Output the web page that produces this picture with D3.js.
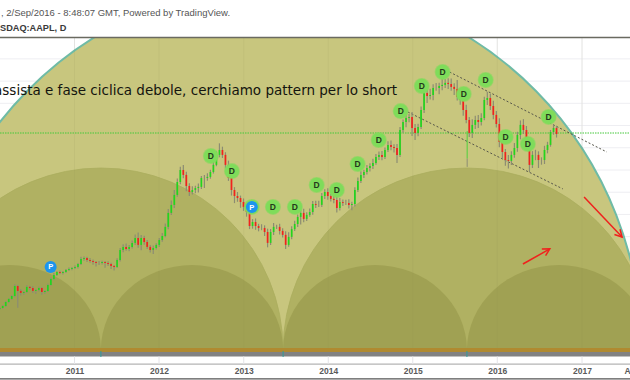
<!DOCTYPE html>
<html><head><meta charset="utf-8">
<script src="https://cdn.jsdelivr.net/npm/d3@7/dist/d3.min.js"></script>
<style>html,body{margin:0;padding:0;background:#fff;overflow:hidden}svg{display:block}</style>
</head><body><svg id="c" width="630" height="380"></svg>
<script>
const headerText = ", 2/Sep/2016 - 8:48:07 GMT, Powered by TradingView.";
const symbolText = "SDAQ:AAPL, D";
const noteText = "assista e fase ciclica debole, cerchiamo pattern per lo short";
const tickDates = ["2011-01-01","2012-01-01","2013-01-01","2014-01-01","2015-01-01","2016-01-01","2017-01-01","2017-07-15"];
const tickLabels = ["2011","2012","2013","2014","2015","2016","2017","A"];
const gridPrices = [137.5,127.5,117.5,107.5,97.5,87.5,77.5,67.5,57.5,47.5,37.5,27.5,17.5];
const levelPrice = 104.15;
const firstCandle = "2010-02-12", candleDays = 13;
const closes = [
25.4,26.3,28.1,29.5,30.8,35.3,33.1,32.2,32.6,34.9,
34.4,33.1,33.5,34.4,32.6,33.1,35.8,38.5,40.3,41.6,
41.2,41.6,42.5,43,43.4,43.9,45.2,47.5,47.9,47,
46.6,46.1,45.7,45.7,46.1,45.7,45.2,44.3,43.9,47,
51.5,52.9,52,52.9,54.7,56.9,53.8,56.9,55.1,52.9,
51.5,52.4,53.8,56,57.8,61.9,68.2,71.8,76.3,82.1,
87.5,85.3,80.3,77.6,78.5,79.4,79.9,83.9,83.9,84.4,
86.6,89.8,94.3,96.5,94.3,89.8,83.9,78.5,75.8,74.9,
73.1,70.9,68.6,62.3,64.1,62.3,61.4,61.4,59.6,54.7,
59.6,61.9,61.9,60.1,58.3,53.8,57.4,60.9,63.2,66.4,
68.2,65.5,67.3,68.6,72.2,71.8,71.8,75.8,77.6,75.8,
74.5,74,70.4,73.1,72.7,72.7,71.8,72.2,78.5,82.6,
85.3,86.6,88.4,89.3,90.7,93.4,94.3,93.4,96.5,98.8,
97.9,97.4,94.3,105.5,109.1,110.9,111.4,106.4,104.2,106.9,
114.5,122.2,120.8,121.3,124.4,124.4,125.3,125.8,126.7,126.2,
124.9,124,120.4,119,114.5,110,104.2,107.8,110,109.1,
110.9,119,119.9,116.3,112.3,108.2,100.1,95.6,92,91.6,
94.3,97.4,103.3,107.8,105.5,98.8,89.8,94.3,94.3,92,
92,96.5,98.8,104.6,106.4,103.7];
const wickUp = [
.4,.5,.4,.3,.5,.8,.6,.9,.5,.7,
.5,.9,.4,.6,.5,.4,.5,.6,.8,.5,
.7,.4,.5,.6,.4,.6,.5,1,.7,.6,
.9,.6,.5,.8,.6,.5,.7,.6,.5,.8,
.9,1.2,1.5,.8,1.1,1.6,2.5,1.4,1,.9,
.8,1.1,.7,.9,1.3,1.5,1.8,2,2.2,1.6,
1.5,2.2,1.4,1.2,1.7,1,1.5,.9,1.4,1.6,
1,1.3,1.6,3,1.5,1.2,1.9,2.2,1.3,1.8,
1.1,1.6,1.2,1.8,1.3,1.6,1,1.7,1.2,1.5,
1.3,1.8,1,1.4,1.2,1.6,2.1,1.3,1.5,1.1,
1.4,1.9,1.2,1.6,1.3,1.5,1.9,1.4,1.2,1.7,
1,1.5,1.3,1.8,1.1,1.4,1.6,1,1.2,1.5,
1.6,1,1.4,1.2,1.9,1.3,1.5,1.7,1.1,1.6,
2,1.2,1.8,1.4,1.1,1.6,1.3,2.2,1.8,1.4,
1.6,1.2,2.4,2.8,1.7,2.2,1.5,2.6,1.8,2.1,
2.5,1.6,4,2,1.7,2.4,1.3,2.5,1.9,2.3,
2.1,1.5,2.8,1.9,2.4,1.7,2.6,1.8,1.4,2.2,
1.6,2.3,1.4,2,2.6,1.8,1.3,1.7,2.3,1.6,
1.2,1.9,1.4,.9,1.5,1];
const wickDown = [
.4,.3,.5,.4,.4,.6,7.6,1.2,.8,.5,
.9,1,1.4,.7,1.2,.8,.5,.4,.6,.5,
.6,.7,.5,.4,.6,.5,.7,.4,.8,.9,
.8,1.2,1.6,.9,.7,2.2,.9,1.4,1.6,.5,
.7,1,.8,1.1,.7,.9,1.3,2.4,1.2,1,
1.1,1.8,.7,.9,.8,.6,1.1,.9,1.4,.8,
1,1.5,2.4,1.8,1.1,1.5,2,.9,4.5,1.2,
.8,.7,.6,1.1,1.4,1.6,1.3,2.5,3.2,1.7,
2.6,1.8,2.1,1.4,1.2,1.7,1.5,1,1.8,2,
.9,1.3,1,1.6,1.2,1.8,.8,1.1,.9,1.4,
3.4,1.5,1,.8,1.2,1.4,.9,1,1.3,1.7,
1.2,1.5,2,1.1,1.4,1,1.6,2.4,1.1,.9,
1,1.4,1.1,1.6,1.3,.8,1.4,1.5,1,.9,
1.5,2,3.6,1,1.2,2.4,1.9,3.6,3.2,1.5,
.9,1.4,3.2,1.6,2.4,1.2,2.8,1.9,1.4,2.3,
1.7,2.8,1.6,2.1,2.6,1.5,1.8,2.3,1.9,2.7,
1.6,1,2.2,1.8,2,1.6,2.4,3,2.6,3.4,
1.8,1.3,1.7,2,1.8,2.2,3.2,1.4,2.4,3.6,
2.1,1.8,1.5,.8,1.2,1.6];
const crashDate = ["2015-08-24"], crashOpen = [92.7], crashClose = [105], crashLow = [88.9];
const dividendDates = ["2012-08-12","2012-11-11","2013-02-05","2013-05-07","2013-08-10","2013-11-12","2014-02-07","2014-05-08","2014-08-07","2014-11-10","2015-02-09","2015-05-10","2015-08-09","2015-11-12","2016-02-06","2016-05-12","2016-08-10"];
const dividendPrices = [93.8,87,70.9,70.9,70.9,80.75,78.5,90.2,101,114,125.3,131.6,121.7,128,102.4,99.2,111.4];
const splitDates = ["2010-09-20","2013-02-05"];
const splitPrices = [43.9,70.85];
const cycleDates = ["2011-04-25","2013-06-20","2015-08-23"];
const channelUpperDates = ["2015-06-09","2017-04-18"], channelUpperPrices = [131.6,95.6];
const channelLowerDates = ["2014-12-11","2016-10-10"], channelLowerPrices = [113.6,79];
const arrowUpDates = ["2016-04-21","2016-08-15"], arrowUpPrices = [45.2,52];
const arrowDownDates = ["2017-01-10","2017-06-23"], arrowDownPrices = [75.35,57.35];

const W=630,H=380,plotTop=38,base=350,bandTop=348;
const d = s => new Date(s+"T00:00:00");
const x = d3.scaleTime().domain([d("2011-01-01"),d("2017-01-01")]).range([74.5,582]);
const y = d3.scaleLinear().domain([146.9,6.5]).range([38,350]);
const svg = d3.select("#c");
const defs = svg.append("defs");
defs.append("clipPath").attr("id","plot").append("rect").attr("x",0).attr("y",plotTop).attr("width",W).attr("height",bandTop-plotTop);
const blur = defs.append("filter").attr("id","soft").attr("x","-5%").attr("y","-5%").attr("width","110%").attr("height","110%");
blur.append("feGaussianBlur").attr("stdDeviation",0.35);

// grid under the arcs
const gridBack = svg.append("g").attr("stroke","#eeeef2").attr("stroke-width",1);
gridBack.selectAll("line.h").data(gridPrices).join("line").attr("class","h").attr("x1",0).attr("x2",W).attr("y1",p=>y(p)).attr("y2",p=>y(p));
gridBack.selectAll("line.v").data(tickDates.slice(0,7)).join("line").attr("class","v").attr("x1",t=>x(d(t))).attr("x2",t=>x(d(t))).attr("y1",plotTop).attr("y2",bandTop);

// cycle arcs
const cx = cycleDates.map(t=>x(d(t)));
const half = (cx[1]-cx[0])/2;
const arcs = [
 {c:cx[1]-1.5,rx:cx[2]-cx[0]-6,ry:366,fill:"#c8c67e",stroke:"#6fbba6",sw:2},
 {c:cx[0],rx:cx[1]-cx[0],ry:182,fill:"#b0b162",stroke:"#abad5e",sw:0.8},
 {c:cx[2],rx:cx[2]-cx[1],ry:182,fill:"#b0b162",stroke:"#abad5e",sw:0.8},
 {c:cx[0]-half,rx:half,ry:85,fill:"#a0a153",stroke:"none",sw:0},
 {c:cx[0]+half,rx:half,ry:85,fill:"#a0a153",stroke:"none",sw:0},
 {c:cx[1]+(cx[2]-cx[1])/2,rx:(cx[2]-cx[1])/2,ry:85,fill:"#a0a153",stroke:"none",sw:0},
 {c:cx[2]+(cx[2]-cx[1])/2,rx:(cx[2]-cx[1])/2,ry:85,fill:"#a0a153",stroke:"none",sw:0}
];
const arcG = svg.append("g").attr("clip-path","url(#plot)");
arcG.selectAll("ellipse").data(arcs).join("ellipse")
 .attr("cx",a=>a.c).attr("cy",base).attr("rx",a=>a.rx).attr("ry",a=>a.ry)
 .attr("fill",a=>a.fill).attr("stroke",a=>a.stroke).attr("stroke-width",a=>a.sw);

// faint grid over the arcs
const gridFront = svg.append("g").attr("clip-path","url(#plot)").attr("stroke","#8a8a4a").attr("stroke-opacity",0.1);
gridFront.selectAll("line.v").data(tickDates.slice(0,7)).join("line").attr("class","v").attr("x1",t=>x(d(t))).attr("x2",t=>x(d(t))).attr("y1",plotTop).attr("y2",bandTop);

// bands and frame
svg.append("rect").attr("x",0).attr("y",348).attr("width",W).attr("height",4).attr("fill","#b08a30");
svg.append("rect").attr("x",0).attr("y",352).attr("width",W).attr("height",4.5).attr("fill","#828282");
svg.append("g").selectAll("line").data(cycleDates).join("line").attr("x1",t=>x(d(t))).attr("x2",t=>x(d(t))).attr("y1",351).attr("y2",357).attr("stroke","#2f9c9c").attr("stroke-width",1);
svg.append("line").attr("x1",0).attr("x2",W).attr("y1",37.5).attr("y2",37.5).attr("stroke","#6a6a60").attr("stroke-width",1.4);

// level
svg.append("line").attr("x1",0).attr("x2",W).attr("y1",y(levelPrice)).attr("y2",y(levelPrice)).attr("stroke","#45c83a").attr("stroke-width",1).attr("stroke-dasharray","1.5,1");

// channels
const ln = d3.line().x(p=>x(d(p[0]))).y(p=>y(p[1]));
[[channelUpperDates,channelUpperPrices],[channelLowerDates,channelLowerPrices]].forEach(([a,b])=>{
 svg.append("path").attr("d",ln(d3.zip(a,b))).attr("fill","none").attr("stroke","#55554a").attr("stroke-width",1).attr("stroke-dasharray","2,2");
});

// candles
const start = d(firstCandle);
const candles = closes.map((c,i)=>({date:d3.timeDay.offset(start,candleDays*i),open:i?closes[i-1]:c-0.5,close:c,up:wickUp[i]||0,down:wickDown[i]||0}));
const cg = svg.append("g").attr("filter","url(#soft)");
cg.selectAll("line.w").data(candles).join("line").attr("class","w")
 .attr("x1",c=>x(c.date)).attr("x2",c=>x(c.date))
 .attr("y1",c=>y(Math.max(c.open,c.close)+c.up)).attr("y2",c=>y(Math.min(c.open,c.close)-c.down))
 .attr("stroke","#8c8c72").attr("stroke-width",1.2);
cg.selectAll("line.b").data(candles).join("line").attr("class","b")
 .attr("x1",c=>x(c.date)).attr("x2",c=>x(c.date))
 .attr("y1",c=>y(c.open)).attr("y2",c=>y(c.close))
 .attr("stroke",c=>c.close>=c.open?"#22d61e":"#f2201c").attr("stroke-width",1.7);
crashDate.forEach((t,i)=>{
 cg.append("line").attr("x1",x(d(t))).attr("x2",x(d(t))).attr("y1",y(crashOpen[i])).attr("y2",y(crashLow[i])).attr("stroke","#8c8c72");
 cg.append("line").attr("x1",x(d(t))).attr("x2",x(d(t))).attr("y1",y(crashOpen[i])).attr("y2",y(crashClose[i])).attr("stroke","#4ed03c").attr("stroke-width",1);
});

// arrows
function arrow(ds,ps){
 const x0=x(d(ds[0])),y0=y(ps[0]),x1=x(d(ds[1])),y1=y(ps[1]);
 const a=Math.atan2(y1-y0,x1-x0),L=8,s=0.5;
 const g=svg.append("g").attr("stroke","#f0211d").attr("stroke-width",1.5).attr("fill","none");
 g.append("line").attr("x1",x0).attr("y1",y0).attr("x2",x1).attr("y2",y1);
 g.append("path").attr("d",`M${x1-L*Math.cos(a-s)},${y1-L*Math.sin(a-s)}L${x1},${y1}L${x1-L*Math.cos(a+s)},${y1-L*Math.sin(a+s)}`);
}
arrow(arrowUpDates,arrowUpPrices);
arrow(arrowDownDates,arrowDownPrices);

// markers
const dm = svg.append("g").selectAll("g").data(d3.zip(dividendDates,dividendPrices)).join("g")
 .attr("transform",p=>`translate(${x(d(p[0]))},${y(p[1])})`);
dm.append("circle").attr("r",8).attr("fill","#7fdc5a").attr("fill-opacity",0.6);
dm.append("circle").attr("r",7.2).attr("fill","#7fdc5a");
dm.append("text").attr("text-anchor","middle").attr("y",3).attr("font-family","'Liberation Sans',Arial,sans-serif").attr("font-size",8.5).attr("font-weight","bold").attr("fill","#24391c").text("D");
const sm = svg.append("g").selectAll("g").data(d3.zip(splitDates,splitPrices)).join("g")
 .attr("transform",p=>`translate(${x(d(p[0]))},${y(p[1])})`);
sm.append("circle").attr("r",6).attr("fill","#1c94ee");
sm.append("text").attr("text-anchor","middle").attr("y",2.5).attr("font-family","'Liberation Sans',Arial,sans-serif").attr("font-size",7.5).attr("font-weight","bold").attr("fill","#fff").text("P");

// note
svg.append("text").attr("x",397).attr("y",95).attr("text-anchor","end").attr("font-family","'DejaVu Sans',sans-serif").attr("font-size",13.5).attr("fill","#14140e").text(noteText);

// header
svg.append("text").attr("x",1).attr("y",15.5).attr("font-family","'Liberation Sans',Arial,sans-serif").attr("font-size",9.5).attr("fill","#555").text(headerText);
svg.append("text").attr("x",0).attr("y",31).attr("font-family","'Liberation Sans',Arial,sans-serif").attr("font-size",9.2).attr("font-weight","bold").attr("fill","#3a3a3a").text(symbolText);

// axis
const axisG = svg.append("g").attr("transform","translate(0,364)")
 .call(d3.axisBottom(x).tickValues(tickDates.map(d)).tickSize(0).tickPadding(4).tickFormat((t,i)=>tickLabels[i]));
axisG.select(".domain").remove();
axisG.selectAll("text").attr("font-family","'Liberation Sans',Arial,sans-serif").attr("font-size",8.5).attr("font-weight","bold").attr("fill","#5a5a5a");
svg.append("line").attr("x1",0).attr("x2",W).attr("y1",364.2).attr("y2",364.2).attr("stroke","#b4b4b4").attr("stroke-width",1.2);
svg.append("g").selectAll("line").data(tickDates.slice(0,7)).join("line").attr("x1",t=>x(d(t))).attr("x2",t=>x(d(t))).attr("y1",356.5).attr("y2",364).attr("stroke","#e4e4e8");
svg.append("line").attr("x1",0).attr("x2",W).attr("y1",378.8).attr("y2",378.8).attr("stroke","#555").attr("stroke-width",1.2);
</script></body></html>
